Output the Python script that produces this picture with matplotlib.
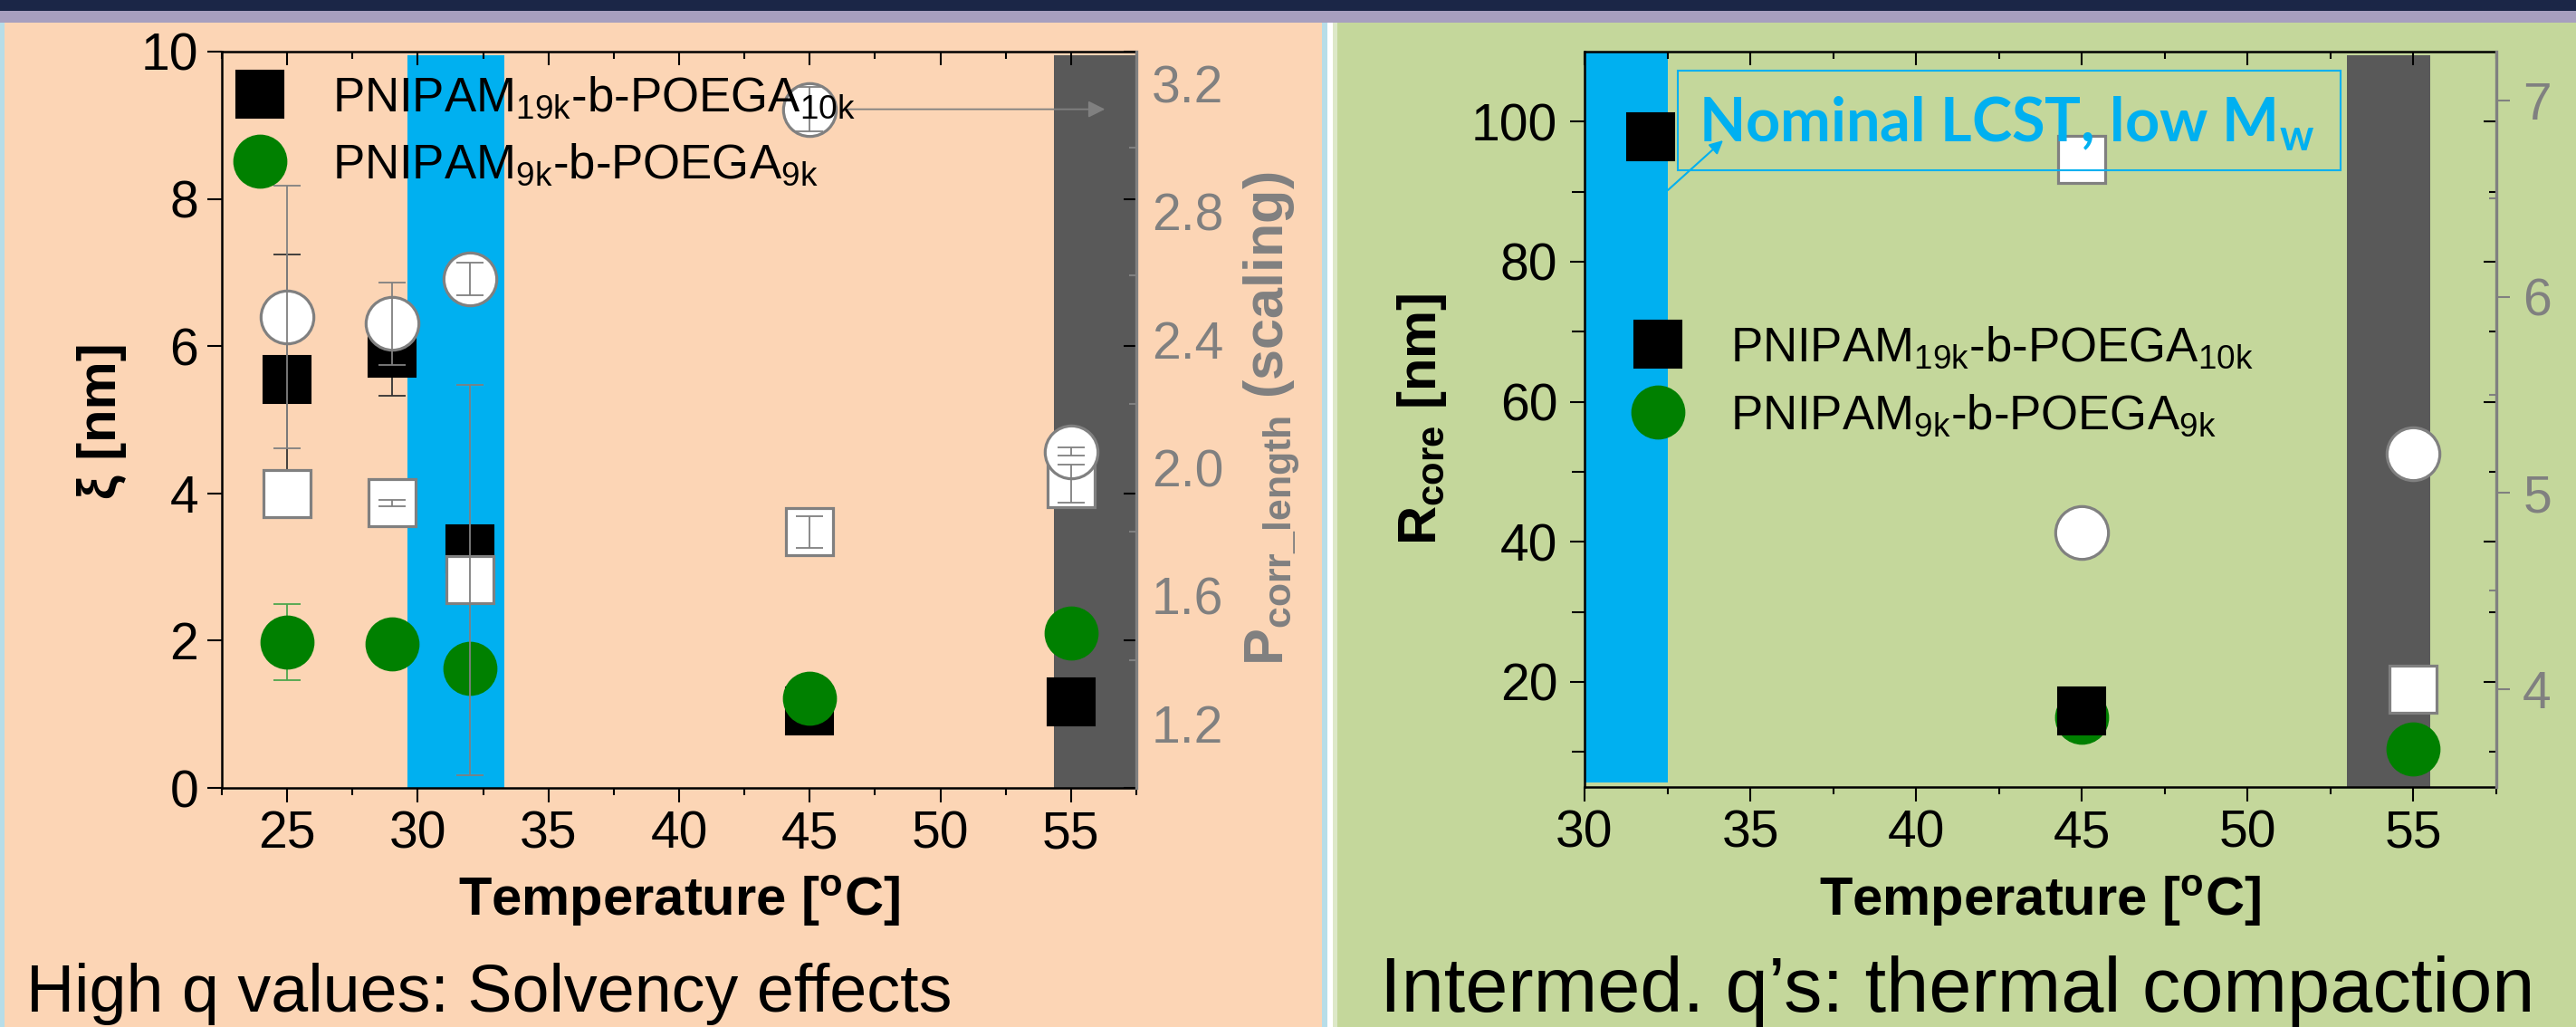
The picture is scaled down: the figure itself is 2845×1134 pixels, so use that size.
import numpy as np
import matplotlib
matplotlib.use("Agg")
import matplotlib.pyplot as plt
from matplotlib.patches import Rectangle, FancyArrowPatch
from matplotlib.ticker import MultipleLocator, FixedLocator

plt.rcParams['font.family'] = ['Liberation Sans', 'DejaVu Sans']
plt.rcParams['mathtext.default'] = 'regular'

# ---------------- data ----------------
# high-q panel: correlation length xi and scaling exponent P vs temperature
temp_hq = [25, 29, 32, 45, 55]
xi_19k = [5.55, 5.90, 3.25, 1.05, 1.17]
xi_19k_err = [1.69, 0.58, 0.0, 0.0, 0.0]
xi_9k = [1.98, 1.95, 1.62, 1.22, 2.10]
xi_9k_err = [0.52, 0.0, 0.0, 0.0, 0.0]
p_19k = [1.92, 1.89, 1.65, 1.80, 1.95]
p_19k_err = [0.0, 0.01, 0.61, 0.05, 0.06]
p_9k = [2.47, 2.45, 2.59, 3.12, 2.05]
p_9k_err = [0.41, 0.13, 0.05, 0.07, 0.013]

# intermediate-q panel: core radius and secondary quantity vs temperature
temp_core_19k = [32, 45]
rcore_19k = [97.9, 15.8]
temp_core_9k = [45, 55]
rcore_9k = [15.0, 10.4]
temp_sec = [45, 55]
sec_19k = [6.70, 4.00]
sec_9k = [4.80, 5.20]

label_19k = "PNIPAM$_{19k}$-b-POEGA$_{10k}$"
label_9k = "PNIPAM$_{9k}$-b-POEGA$_{9k}$"

hq_xticks_major = [25, 30, 35, 40, 45, 50, 55]
hq_yticks = [0, 2, 4, 6, 8, 10]
hq_p_ticks = [1.2, 1.6, 2.0, 2.4, 2.8, 3.2]
hq_p_minor = [1.4, 1.8, 2.2, 2.6, 3.0]
iq_xticks_major = [30, 35, 40, 45, 50, 55]
iq_yticks = [20, 40, 60, 80, 100]
iq_sec_ticks = [4, 5, 6, 7]
iq_sec_minor = [4.5, 5.5, 6.5]

# ---------------- colours ----------------
PEACH = '#FCD5B5'
OLIVE = '#C4D79B'
NAVY = '#1B2647'
LAVENDER = '#A79FBF'
LIGHTBLUE = '#B7DDE8'
CYAN = '#00B0F0'
DGRAY = '#595959'
GRAY = '#808080'
GREEN = '#008000'

W, H = 2845, 1134
fig = plt.figure(figsize=(W / 100, H / 100), dpi=100)


def fx(x):
    return x / W


def fy(y):
    return 1 - y / H


def band(x0, y0, x1, y1, color):
    fig.patches.append(Rectangle((fx(x0), fy(y1)), (x1 - x0) / W, (y1 - y0) / H,
                                 transform=fig.transFigure, facecolor=color,
                                 edgecolor='none', zorder=-10))


# slide background
band(0, 0, W, 12, NAVY)
band(0, 12, W, 25, LAVENDER)
band(0, 25, 1460, H, PEACH)
band(0, 25, 5, H, LIGHTBLUE)
band(1460, 25, 1466, H, LIGHTBLUE)
band(1466, 25, 1472, H, 'white')
band(1472, 25, 1477, H, '#DDE8C8')
band(1477, 25, W, H, OLIVE)

TICK_FS = 41
LEG_FS = 38
LW_SPINE = 1.8


def style_axes(ax, xlim, ylim, xmajor, xminor, yticks, yminor, ypad, yminor_len):
    ax.set_facecolor('none')
    ax.set_xlim(*xlim)
    ax.set_ylim(*ylim)
    ax.xaxis.set_major_locator(FixedLocator(xmajor))
    ax.xaxis.set_minor_locator(MultipleLocator(xminor))
    ax.yaxis.set_major_locator(FixedLocator(yticks))
    if yminor:
        ax.yaxis.set_minor_locator(FixedLocator(yminor))
    ax.tick_params(axis='both', which='major', direction='out', length=11.5,
                   width=1.5, labelsize=TICK_FS, colors='black')
    ax.tick_params(axis='x', which='major', pad=6)
    ax.tick_params(axis='y', which='major', pad=ypad)
    ax.tick_params(axis='x', which='minor', direction='out', length=6, width=1.5)
    ax.tick_params(axis='y', which='minor', direction='out', length=yminor_len, width=1.5)
    ax.tick_params(top=False, right=False, which='both')
    for s in ['left', 'bottom']:
        ax.spines[s].set_linewidth(LW_SPINE)
    ax.spines['top'].set_visible(False)
    ax.spines['right'].set_visible(False)

    top = ax.secondary_xaxis('top')
    top.set_xticks(xmajor)
    top.xaxis.set_minor_locator(MultipleLocator(xminor))
    top.tick_params(axis='x', which='major', direction='in', length=11, width=1.5,
                    labeltop=False)
    top.tick_params(axis='x', which='minor', direction='in', length=6, width=1.5)
    top.spines['top'].set_linewidth(LW_SPINE)

    right = ax.secondary_yaxis('right')
    right.set_yticks(yticks)
    if yminor:
        right.yaxis.set_minor_locator(FixedLocator(yminor))
    right.tick_params(axis='y', which='major', direction='in', length=10, width=1.5,
                      labelright=False)
    right.tick_params(axis='y', which='minor', direction='in', length=6, width=1.5)
    right.spines['right'].set_visible(False)


def style_twin(ax2, ylim, ticks, minor, major_len, major_dir, pad):
    ax2.set_facecolor('none')
    ax2.set_ylim(*ylim)
    ax2.yaxis.set_major_locator(FixedLocator(ticks))
    ax2.yaxis.set_minor_locator(FixedLocator(minor))
    ax2.tick_params(axis='y', which='major', direction=major_dir, length=major_len,
                    width=1.5, color=GRAY, labelcolor=GRAY, labelsize=TICK_FS, pad=pad)
    ax2.tick_params(axis='y', which='minor', direction='in', length=6, width=1.5, color=GRAY)
    for s in ['left', 'top', 'bottom']:
        ax2.spines[s].set_visible(False)
    ax2.spines['right'].set_color(GRAY)
    ax2.spines['right'].set_linewidth(LW_SPINE + 0.6)


MS_SQ = 37.5
MS_CI = 42
EB_KW = dict(fmt='none', elinewidth=1.3, capsize=11, capthick=1.3)
LEG_KW = dict(loc='upper left', frameon=False, fontsize=LEG_FS, handlelength=1.0,
              handletextpad=1.0, labelspacing=0.45, borderpad=0, borderaxespad=0)


def err_subset(x, y, e):
    x, y, e = map(np.asarray, (x, y, e))
    m = e > 0
    return x[m], y[m], e[m]

# ================= high-q panel =================
axL = fig.add_axes([fx(245), fy(870), (1255 - 245) / W, (870 - 57) / H])
style_axes(axL, (22.5, 57.5), (0, 10), hq_xticks_major, 2.5, hq_yticks, None, 7, 6)
axL.axvspan(29.6, 33.3, ymin=0, ymax=0.995, color=CYAN, lw=0, zorder=0)
axL.axvspan(54.35, 57.5, ymin=0, ymax=0.995, color=DGRAY, lw=0, zorder=0)

x, y, e = err_subset(temp_hq, xi_19k, xi_19k_err)
axL.errorbar(x, y, yerr=e, ecolor='#333333', zorder=2, **EB_KW)
x, y, e = err_subset(temp_hq, xi_9k, xi_9k_err)
axL.errorbar(x, y, yerr=e, ecolor='#4CA64C', zorder=2, **EB_KW)
h19, = axL.plot(temp_hq, xi_19k, 's', ms=MS_SQ, mfc='black', mec='black', mew=1.5,
                ls='none', zorder=3)
h9, = axL.plot(temp_hq, xi_9k, 'o', ms=MS_CI, mfc=GREEN, mec=GREEN, mew=1.0,
               ls='none', zorder=4)

axL2 = axL.twinx()
style_twin(axL2, (1.0, 3.3), hq_p_ticks, hq_p_minor, 0, 'in', 12)
axL2.plot(temp_hq, p_19k, 's', ms=MS_SQ, mfc='white', mec=GRAY, mew=2.3, ls='none', zorder=2)
axL2.plot(temp_hq, p_9k, 'o', ms=MS_CI, mfc='white', mec=GRAY, mew=2.3, ls='none', zorder=3)
x, y, e = err_subset(temp_hq, p_19k, p_19k_err)
axL2.errorbar(x, y, yerr=e, ecolor=GRAY, zorder=4, **EB_KW)
x, y, e = err_subset(temp_hq, p_9k, p_9k_err)
axL2.errorbar(x, y, yerr=e, ecolor=GRAY, zorder=4, **EB_KW)
axL2.annotate('', xy=(56.3, p_9k[3]), xytext=(46.46, p_9k[3]),
              arrowprops=dict(arrowstyle='-|>', color=GRAY, lw=1.3, mutation_scale=28,
                              shrinkA=0, shrinkB=0), zorder=5)
legL = axL2.legend([h19, h9], [label_19k, label_9k], bbox_to_anchor=(0.0158, 0.9687),
                   **LEG_KW)
legL.set_zorder(10)

fig.text(fx(750), fy(1011), "Temperature [$^o$C]", ha='center', va='baseline',
         fontsize=43, fontweight='bold')
fig.text(fx(112), fy(465), "ξ [nm]", ha='center', va='center', rotation=90,
         fontsize=43, fontweight='bold')
fig.text(fx(1405), fy(462), "P$_{corr\\_length}$ (scaling)", ha='center', va='center',
         rotation=90, fontsize=44, fontweight='bold', color=GRAY)
fig.text(fx(29), fy(1117), "High q values: Solvency effects", ha='left', va='baseline',
         fontsize=53)

# ================= intermediate-q panel =================
axR = fig.add_axes([fx(1750), fy(869), (2757 - 1750) / W, (869 - 57) / H])
style_axes(axR, (30, 57.5), (5, 110), iq_xticks_major, 2.5, iq_yticks,
           [10, 30, 50, 70, 90], 10, 10)
axR.axvspan(30, 32.5, ymin=0.006, ymax=1.0, color=CYAN, lw=0, zorder=0)
axR.axvspan(53.0, 55.5, ymin=0, ymax=0.995, color=DGRAY, lw=0, zorder=0)
g9, = axR.plot(temp_core_9k, rcore_9k, 'o', ms=MS_CI, mfc=GREEN, mec=GREEN, mew=1.0,
               ls='none', zorder=3)
g19, = axR.plot(temp_core_19k, rcore_19k, 's', ms=MS_SQ, mfc='black', mec='black',
                mew=1.5, ls='none', zorder=4)

axR2 = axR.twinx()
style_twin(axR2, (3.5, 7.25), iq_sec_ticks, iq_sec_minor, 11, 'out', 10)
axR2.plot(temp_sec, sec_19k, 's', ms=MS_SQ, mfc='white', mec=GRAY, mew=2.3, ls='none', zorder=2)
axR2.plot(temp_sec, sec_9k, 'o', ms=MS_CI, mfc='white', mec=GRAY, mew=2.3, ls='none', zorder=3)
legR = axR2.legend([g19, g9], [label_19k, label_9k], bbox_to_anchor=(0.0546, 0.628),
                   **LEG_KW)

fig.text(fx(2253), fy(1011), "Temperature [$^o$C]", ha='center', va='baseline',
         fontsize=43, fontweight='bold')
fig.text(fx(1570), fy(463), "R$_{core}$ [nm]", ha='center', va='center', rotation=90,
         fontsize=43, fontweight='bold')
fig.text(fx(1524), fy(1117), "Intermed. q’s: thermal compaction", ha='left',
         va='baseline', fontsize=61)

# LCST annotation box with arrow
fig.patches.append(Rectangle((fx(1853), fy(187.5)), (2585 - 1853) / W, (187.5 - 78) / H,
                             transform=fig.transFigure, facecolor='none',
                             edgecolor=CYAN, lw=1.5, zorder=20))
fig.text(fx(1876), fy(157), "Nominal LCST, low M$_{w}$", ha='left', va='baseline',
         fontsize=48, fontweight='bold', family='Lato', color=CYAN, zorder=21)
fig.patches.append(FancyArrowPatch((fx(1842), fy(210)), (fx(1903), fy(155)),
                                   transform=fig.transFigure, arrowstyle='-|>',
                                   mutation_scale=22, color=CYAN, lw=1.5,
                                   shrinkA=0, shrinkB=0, zorder=21))

fig.savefig('out.png', dpi=100)
